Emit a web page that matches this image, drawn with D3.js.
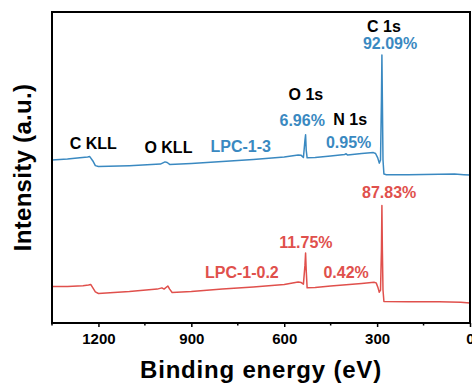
<!DOCTYPE html>
<html>
<head>
<meta charset="utf-8">
<script src="https://cdn.jsdelivr.net/npm/d3@7"></script>
<style>
  body { margin: 0; background: #fff; }
  text { font-family: "Liberation Sans", Arial, sans-serif; font-weight: bold; }
</style>
</head>
<body>
<svg id="chart"></svg>
<script>
// binding energy (eV) / intensity (a.u.)
const beBlue = [1350, 1300, 1260, 1235, 1228, 1218, 1210, 1200, 1100, 1000, 985, 978, 970, 900, 800, 700, 600, 555, 545, 538, 533, 531, 529, 526, 500, 450, 405, 400, 395, 350, 312, 305, 298, 293, 289, 286, 284.5, 283, 281, 278, 270, 200, 100, 50, 20, 0];
const intBlue = [52.4, 52.7, 53.1, 53.4, 53.5, 52.1, 50.6, 50.3, 50.6, 51.1, 51.8, 51.6, 51.0, 51.3, 51.9, 52.6, 53.4, 54.0, 53.9, 53.2, 58.8, 60.5, 55.6, 53.1, 53.2, 53.7, 54.2, 54.4, 54.0, 54.5, 54.8, 54.5, 53.1, 51.4, 52.4, 71.7, 86.2, 71.7, 52.4, 47.9, 47.7, 47.7, 47.8, 47.9, 47.7, 47.6];

const beRed = [1350, 1300, 1250, 1232, 1225, 1218, 1210, 1200, 1100, 1010, 995, 988, 976, 970, 962, 900, 800, 700, 600, 555, 545, 538, 533, 531, 529, 526, 500, 450, 400, 350, 310, 303, 297, 293, 289, 286, 284.5, 283, 281, 278, 200, 100, 30, 0];
const intRed = [11.7, 11.7, 12.0, 12.2, 12.4, 11.3, 10.0, 9.5, 10.1, 10.9, 11.3, 10.9, 11.9, 10.9, 9.8, 10.1, 10.9, 11.6, 12.4, 13.2, 13.0, 12.5, 18.6, 22.5, 17.0, 11.3, 11.4, 11.9, 12.3, 12.7, 13.1, 12.9, 11.3, 9.9, 10.6, 23.5, 37.8, 23.5, 10.6, 6.9, 6.8, 6.8, 6.7, 6.4];

const xTicks = [1200, 900, 600, 300, 0];
const xMinorTicks = [1350, 1050, 750, 450, 150];

// peak labels: text, binding energy, intensity of the text baseline
const peakNames = ["C 1s", "O 1s", "N 1s", "C KLL", "O KLL"];
const peakNameBE = [278, 530, 387, 1217, 974];
const peakNameInt = [93.6, 71.7, 63.8, 55.9, 54.6];

const blueLabels = ["92.09%", "6.96%", "0.95%"];
const blueLabelBE = [258, 542, 392];
const blueLabelInt = [88.0, 63.4, 56.2];

const redLabels = ["87.83%", "11.75%", "0.42%"];
const redLabelBE = [261, 530, 400];
const redLabelInt = [40.2, 24.0, 14.4];

const seriesNames = ["LPC-1-3", "LPC-1-0.2"];
const seriesNameBE = [838, 856];
const seriesNameInt = [55.0, 14.4];

const blue = "#3a89c1";
const red = "#e0504c";

const W = 472, H = 387;
const margin = { top: 12, right: 2, bottom: 64, left: 52 };
const width = W - margin.left - margin.right;
const height = H - margin.top - margin.bottom;

const svg = d3.select("#chart").attr("width", W).attr("height", H);
const g = svg.append("g").attr("transform", `translate(${margin.left},${margin.top})`);

const x = d3.scaleLinear().domain([1350, 0]).range([0, width]);
const y = d3.scaleLinear().domain([0, 100]).range([height, 0]);

const line = d3.line().x(d => x(d[0])).y(d => y(d[1]));

g.append("path")
  .datum(d3.zip(beRed, intRed))
  .attr("d", line)
  .attr("fill", "none")
  .attr("stroke", red)
  .attr("stroke-width", 1.5)
  .attr("stroke-linejoin", "round");

g.append("path")
  .datum(d3.zip(beBlue, intBlue))
  .attr("d", line)
  .attr("fill", "none")
  .attr("stroke", blue)
  .attr("stroke-width", 1.5)
  .attr("stroke-linejoin", "round");

// x axis, major and minor ticks
const xAxis = g.append("g")
  .attr("transform", `translate(0,${height})`)
  .call(d3.axisBottom(x).tickValues(xTicks).tickFormat(d3.format("d")).tickSize(4).tickPadding(6));
xAxis.select(".domain").remove();
xAxis.selectAll("line").attr("stroke-width", 1.5);
xAxis.selectAll("text")
  .style("font-size", "15px")
  .style("font-weight", "bold")
  .attr("fill", "#000");

g.append("g")
  .selectAll("line")
  .data(xMinorTicks)
  .join("line")
  .attr("x1", d => x(d)).attr("x2", d => x(d))
  .attr("y1", height).attr("y2", height + 2.5)
  .attr("stroke", "#000")
  .attr("stroke-width", 1.5);

// frame
g.append("rect")
  .attr("x", 0).attr("y", 0)
  .attr("width", width).attr("height", height)
  .attr("fill", "none")
  .attr("stroke", "#000")
  .attr("stroke-width", 2);

// annotations
function addLabels(texts, bes, ints, color, anchor) {
  g.append("g")
    .selectAll("text")
    .data(texts)
    .join("text")
    .attr("x", (d, i) => x(bes[i]))
    .attr("y", (d, i) => y(ints[i]))
    .attr("text-anchor", anchor)
    .attr("fill", color)
    .style("font-size", "16px")
    .text(d => d);
}
addLabels(peakNames, peakNameBE, peakNameInt, "#000", "middle");
addLabels(blueLabels, blueLabelBE, blueLabelInt, blue, "middle");
addLabels(redLabels, redLabelBE, redLabelInt, red, "middle");
addLabels(seriesNames.slice(0, 1), seriesNameBE.slice(0, 1), seriesNameInt.slice(0, 1), blue, "start");
addLabels(seriesNames.slice(1), seriesNameBE.slice(1), seriesNameInt.slice(1), red, "start");

// axis titles
svg.append("text")
  .attr("x", 261)
  .attr("y", 378)
  .attr("text-anchor", "middle")
  .style("font-size", "24px")
  .style("letter-spacing", "0.8px")
  .text("Binding energy (eV)");

svg.append("text")
  .attr("transform", `translate(31,${margin.top + height / 2}) rotate(-90)`)
  .attr("text-anchor", "middle")
  .style("font-size", "24px")
  .style("letter-spacing", "0.3px")
  .text("Intensity (a.u.)");
</script>
</body>
</html>
